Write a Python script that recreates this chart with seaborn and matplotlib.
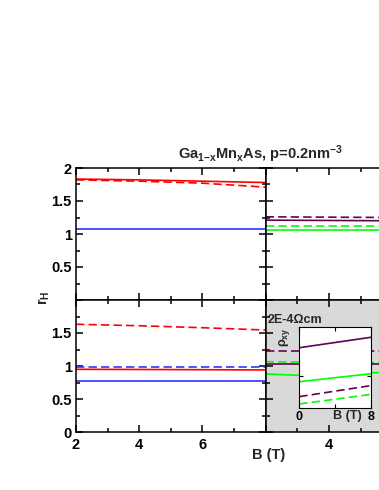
import numpy as np
import matplotlib
matplotlib.use('Agg')
import matplotlib.pyplot as plt
import seaborn as sns
from matplotlib.ticker import MultipleLocator

sns.set_theme(style='ticks')
plt.rcParams['font.family'] = ['Liberation Sans', 'DejaVu Sans']
plt.rcParams.update({
    'font.weight': 'bold',
    'mathtext.fontset': 'custom',
    'mathtext.rm': 'Liberation Sans:bold',
    'mathtext.bf': 'Liberation Sans:bold',
    'mathtext.it': 'Liberation Sans:italic:bold',
    'mathtext.default': 'bf',
    'axes.linewidth': 1.1,
    'axes.edgecolor': 'black',
})

# ── data ──────────────────────────────────────────────
B = [2, 4, 6, 8]
B_br = [2, 3, 4, 6, 8]

# top-left panel
tl_red_solid = [1.833, 1.82, 1.80, 1.78]
tl_red_dash = [1.82, 1.80, 1.77, 1.71]
tl_blue_solid = [1.076, 1.076, 1.076, 1.076]

# top-right panel
tr_purple_dash = [1.26, 1.255, 1.25, 1.245]
tr_purple_solid = [1.21, 1.205, 1.20, 1.195]
tr_green_dash = [1.117, 1.117, 1.117, 1.117]
tr_green_solid = [1.06, 1.06, 1.06, 1.06]

# bottom-left panel
bl_red_dash = [1.632, 1.61, 1.58, 1.545]
bl_blue_dash = [0.99, 0.99, 0.99, 0.99]
bl_red_solid = [0.95, 0.947, 0.944, 0.94]
bl_blue_solid = [0.78, 0.78, 0.78, 0.78]

# bottom-right panel
br_purple_dash = [1.227, 1.227, 1.227, 1.227, 1.227]
br_green_dash = [1.065, 1.06, 1.055, 1.05, 1.05]
br_purple_solid = [1.03, 1.03, 1.03, 1.03, 1.03]
br_green_solid = [0.88, 0.86, 0.87, 0.91, 0.94]

# inset rho_xy (arbitrary units)
B_in = [0, 8]
in_purple_solid = [7.48, 8.77]
in_green_solid = [3.28, 4.27]
in_purple_dash = [1.44, 2.80]
in_green_dash = [0.53, 1.72]

RED = '#ff0000'; BLUE = '#3333ff'; GREEN = '#00ff00'; PURPLE = '#660055'
DASH = (0, (5, 2.5))
LW = 1.2
FS = 10.5

fig = plt.figure(figsize=(3.79, 4.90), dpi=100)
W, H = 379, 490


def px_axes(x0, y0, x1, y1):
    return fig.add_axes([x0 / W, 1 - y1 / H, (x1 - x0) / W, (y1 - y0) / H])


ax_tl = px_axes(76, 168, 265.7, 300)
ax_tr = px_axes(265.7, 168, 455.4, 300)
ax_bl = px_axes(76, 300, 265.7, 432)
ax_br = px_axes(265.7, 300, 455.4, 432)
ax_br.set_facecolor('#d9d9d9')


def line(ax, x, y, color, dashed=False):
    kw = dict(linestyle=DASH) if dashed else {}
    sns.lineplot(x=x, y=y, ax=ax, color=color, linewidth=LW, **kw)


line(ax_tl, B, tl_red_solid, RED)
line(ax_tl, B, tl_red_dash, RED, True)
line(ax_tl, B, tl_blue_solid, BLUE)

line(ax_tr, B, tr_purple_dash, PURPLE, True)
line(ax_tr, B, tr_purple_solid, PURPLE)
line(ax_tr, B, tr_green_dash, GREEN, True)
line(ax_tr, B, tr_green_solid, GREEN)

line(ax_bl, B, bl_red_dash, RED, True)
line(ax_bl, B, bl_blue_dash, BLUE, True)
line(ax_bl, B, bl_red_solid, RED)
line(ax_bl, B, bl_blue_solid, BLUE)

line(ax_br, B_br, br_purple_dash, PURPLE, True)
line(ax_br, B_br, br_green_dash, GREEN, True)
line(ax_br, B_br, br_purple_solid, PURPLE)
line(ax_br, B_br, br_green_solid, GREEN)

for ax in [ax_tl, ax_tr, ax_bl, ax_br]:
    ax.set_xlim(2, 8); ax.set_ylim(0, 2)
    ax.set_xticks([2, 4, 6, 8]); ax.set_yticks([0, 0.5, 1, 1.5, 2])
    ax.xaxis.set_minor_locator(MultipleLocator(1))
    ax.yaxis.set_minor_locator(MultipleLocator(0.25))
    ax.tick_params(which='both', direction='in', top=True, right=True,
                   width=1.1, labelsize=FS, colors='black')
    ax.tick_params(which='major', length=5)
    ax.tick_params(which='minor', length=3)
    ax.tick_params(axis='y', pad=3); ax.tick_params(axis='x', pad=4)
    ax.set_xlabel(''); ax.set_ylabel('')
    for s in ax.spines.values():
        s.set_visible(True)

ax_tl.set_xticklabels([])
ax_tl.set_yticklabels(['', '0.5', '1', '1.5', '2'])
ax_tr.set_xticklabels([]); ax_tr.set_yticklabels([])
ax_bl.set_xticklabels(['2', '4', '6', ''])
ax_bl.set_yticklabels(['0', '0.5', '1', '1.5', ''])
# labels 6 and 8 of this panel fall outside the cropped figure
ax_br.set_xticklabels(['', '4', '', '']); ax_br.set_yticklabels([])
for ax in [ax_tl, ax_tr, ax_bl, ax_br]:
    for lab in ax.get_xticklabels() + ax.get_yticklabels():
        lab.set_fontweight('bold')

# inset
ax_in = px_axes(299.3, 327.3, 371, 408.3)
ax_in.set_facecolor('white')
line(ax_in, B_in, in_purple_solid, PURPLE)
line(ax_in, B_in, in_green_solid, GREEN)
line(ax_in, B_in, in_purple_dash, PURPLE, True)
line(ax_in, B_in, in_green_dash, GREEN, True)
ax_in.set_xlim(0, 8); ax_in.set_ylim(0, 10)
ax_in.set_xticks([0, 4, 8]); ax_in.set_xticklabels(['0', '', '8'])
ax_in.set_yticks([4]); ax_in.set_yticklabels([])
ax_in.tick_params(direction='in', top=True, right=True, length=3, width=0.8,
                  labelsize=9, pad=2, colors='black')
for lab in ax_in.get_xticklabels():
    lab.set_fontweight('bold')
ax_in.set_xlabel(''); ax_in.set_ylabel('')
for s in ax_in.spines.values():
    s.set_linewidth(0.8)
ax_in.text(5.4, -0.25, 'B (T)', ha='center', va='top', fontsize=9,
           fontweight='bold', transform=ax_in.transData, clip_on=False)
ax_in.text(-0.1, 1.0, r'$\rho_{xy}$', rotation=90, ha='right', va='top',
           fontsize=9, transform=ax_in.transAxes)

fig.text(268 / W, 1 - 323 / H, '2E-4\u03a9cm', fontsize=9, fontweight='bold',
         ha='left', va='baseline')

# labels & title
fig.text(260 / W, 1 - 159 / H, r'Ga$_{1{-}x}$Mn$_x$As, p=0.2nm$^{-3}$',
         fontsize=FS, fontweight='bold', ha='center', va='baseline')
fig.text(44 / W, 1 - 298 / H, r'r$_H$', rotation=90, fontsize=FS,
         fontweight='bold', ha='center', va='center')
fig.text(269 / W, 1 - 455 / H, 'B (T)', fontsize=FS, fontweight='bold',
         ha='center', va='center')

fig.savefig('out.png', dpi=100, facecolor='white')
